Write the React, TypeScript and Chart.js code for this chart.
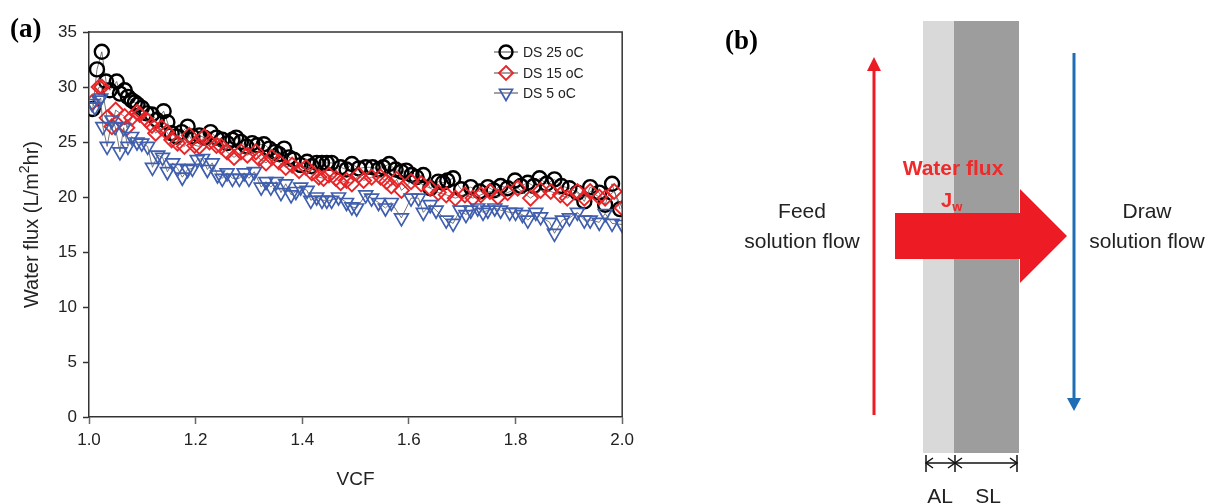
import React, { useEffect, useRef } from "react";
import { Chart, registerables } from "chart.js";

Chart.register(...registerables);

const FONT = "'Liberation Sans', Arial, sans-serif";
const SERIF = "'Liberation Serif', 'Times New Roman', serif";

// ---- Data (VCF vs water flux, L/m2hr) ----
const SERIES_LABELS = ["DS 25 oC", "DS 15 oC", "DS 5 oC"];

const VCF_25 = [1.007,1.015,1.024,1.032,1.039,1.052,1.058,1.067,1.073,1.080,1.086,1.091,1.099,1.108,1.118,1.127,1.140,1.147,1.155,1.164,1.174,1.185,1.194,1.207,1.216,1.228,1.239,1.250,1.259,1.269,1.276,1.285,1.295,1.306,1.315,1.328,1.338,1.349,1.356,1.366,1.375,1.384,1.397,1.409,1.418,1.427,1.437,1.446,1.455,1.472,1.483,1.493,1.506,1.519,1.532,1.543,1.552,1.563,1.575,1.586,1.595,1.605,1.614,1.627,1.640,1.655,1.664,1.672,1.683,1.698,1.716,1.733,1.748,1.759,1.772,1.785,1.799,1.810,1.823,1.834,1.845,1.858,1.873,1.886,1.901,1.916,1.929,1.940,1.957,1.968,1.981,1.996];
const FLUX_25 = [28.0,31.6,33.2,30.5,29.7,30.5,29.4,29.7,29.1,28.8,28.6,28.4,28.1,27.6,27.5,27.0,27.8,26.8,25.8,25.5,25.9,26.4,25.5,25.6,25.4,25.9,25.4,25.2,24.9,25.2,25.4,25.0,24.6,24.9,24.7,24.8,24.4,24.1,23.9,24.4,23.6,23.4,22.9,23.2,22.8,23.1,23.1,23.1,23.1,22.7,22.5,23.0,22.6,22.7,22.7,22.5,22.7,23.0,22.5,22.3,22.4,22.0,21.8,22.0,20.8,21.4,21.3,21.5,21.7,20.7,20.9,20.5,20.9,20.6,21.0,20.8,21.5,21.0,21.3,21.0,21.7,21.2,21.6,21.0,20.8,20.4,19.6,20.9,20.4,19.3,21.2,18.9];

const VCF_15 = [1.006,1.019,1.024,1.034,1.043,1.050,1.067,1.071,1.080,1.090,1.095,1.108,1.118,1.125,1.136,1.146,1.155,1.166,1.179,1.188,1.198,1.207,1.216,1.226,1.239,1.248,1.259,1.272,1.285,1.297,1.313,1.319,1.332,1.343,1.356,1.369,1.381,1.394,1.407,1.418,1.431,1.440,1.450,1.463,1.472,1.483,1.493,1.506,1.515,1.530,1.547,1.558,1.567,1.577,1.586,1.604,1.623,1.640,1.655,1.670,1.687,1.705,1.720,1.735,1.752,1.767,1.785,1.804,1.828,1.847,1.866,1.884,1.897,1.916,1.929,1.940,1.957,1.968,1.985,2.000];
const FLUX_15 = [28.6,30.0,30.0,27.2,26.4,27.9,27.3,26.3,27.2,27.7,27.5,27.0,26.5,25.8,26.3,25.9,25.2,24.9,24.6,25.6,24.7,24.6,25.5,25.0,24.7,24.6,24.1,23.6,24.1,23.8,24.1,23.5,23.1,23.6,23.2,22.7,22.9,22.4,22.7,22.2,21.8,21.7,22.0,21.7,21.3,21.5,21.2,22.0,21.5,21.8,21.8,21.4,21.0,21.6,20.6,21.4,21.2,20.8,20.4,20.2,19.9,20.2,19.9,20.2,20.5,20.0,20.4,20.8,19.9,20.6,20.5,20.2,19.9,20.5,19.9,20.5,20.0,19.9,20.5,19.0];

const VCF_5 = [1.006,1.011,1.019,1.022,1.026,1.034,1.043,1.049,1.058,1.065,1.073,1.080,1.090,1.099,1.110,1.119,1.129,1.138,1.147,1.157,1.166,1.175,1.185,1.194,1.203,1.213,1.222,1.231,1.241,1.250,1.259,1.269,1.282,1.291,1.300,1.310,1.323,1.332,1.341,1.351,1.360,1.369,1.379,1.388,1.397,1.409,1.416,1.427,1.437,1.446,1.455,1.468,1.483,1.493,1.502,1.519,1.530,1.543,1.556,1.567,1.586,1.604,1.618,1.627,1.640,1.651,1.670,1.683,1.696,1.707,1.716,1.729,1.739,1.748,1.761,1.772,1.789,1.800,1.813,1.823,1.838,1.847,1.864,1.873,1.888,1.901,1.916,1.929,1.940,1.957,1.968,1.981,2.000];
const FLUX_5 = [28.5,28.2,28.8,29.0,26.4,24.6,27.0,26.4,24.1,26.3,24.6,25.5,25.0,24.9,24.6,22.7,23.8,23.6,22.3,23.1,22.6,21.8,22.5,22.6,23.4,23.5,22.5,23.1,22.0,21.7,22.2,21.7,21.7,22.2,21.7,22.3,20.9,21.4,20.9,21.4,20.4,21.2,20.2,20.5,20.9,20.6,19.7,20.0,19.7,19.7,19.7,20.0,19.5,19.1,19.0,20.2,19.9,19.5,19.0,19.5,18.1,19.9,19.9,18.6,19.3,18.8,17.9,17.6,18.8,18.4,18.8,19.0,18.6,18.8,19.0,18.8,18.6,18.6,18.4,17.9,18.6,18.2,17.7,16.7,17.9,18.1,18.6,17.9,17.9,17.7,18.5,17.6,17.5];

const X_TICKS = [1.0, 1.2, 1.4, 1.6, 1.8, 2.0];
const Y_TICKS = [0, 5, 10, 15, 20, 25, 30, 35];

const COLORS = ["#000000", "#e8262a", "#3f5eae"];
const STYLES = ["circle", "rectRot", "triangle"];
const RADII = [7, 7.5, 8];
const BWIDTH = [2.4, 1.9, 1.7];
const ROT = [0, 0, 180];

const toPts = (xs: number[], ys: number[]) => xs.map((x, i) => ({ x, y: ys[i] }));

function drawMarker(ctx: CanvasRenderingContext2D, kind: string, x: number, y: number, r: number) {
  ctx.beginPath();
  if (kind === "circle") {
    ctx.arc(x, y, r, 0, Math.PI * 2);
  } else if (kind === "rectRot") {
    ctx.moveTo(x, y - r);
    ctx.lineTo(x + r, y);
    ctx.lineTo(x, y + r);
    ctx.lineTo(x - r, y);
    ctx.closePath();
  } else {
    const h = r * 0.866;
    ctx.moveTo(x - h, y - r / 2);
    ctx.lineTo(x + h, y - r / 2);
    ctx.lineTo(x, y + r);
    ctx.closePath();
  }
  ctx.stroke();
}

export default function App() {
  const ref = useRef<HTMLCanvasElement>(null);

  useEffect(() => {
    if (!ref.current) return;
    const framePlugin = {
      id: "frameAndLegend",
      afterDraw(chart: any) {
        const { ctx, chartArea } = chart;
        const { left, right, top, bottom } = chartArea;
        ctx.save();
        ctx.strokeStyle = "#333";
        ctx.lineWidth = 1.5;
        ctx.beginPath();
        ctx.moveTo(left, top);
        ctx.lineTo(right, top);
        ctx.lineTo(right, bottom);
        ctx.stroke();

        // panel label
        ctx.fillStyle = "#000";
        ctx.font = `bold 27px ${SERIF}`;
        ctx.textAlign = "left";
        ctx.textBaseline = "alphabetic";
        ctx.fillText("(a)", 10, 37);

        // y-axis title with superscript
        ctx.save();
        ctx.translate(32, (top + bottom) / 2);
        ctx.rotate(-Math.PI / 2);
        const main = `20px ${FONT}`;
        const sup = `14px ${FONT}`;
        const p1 = "Water flux (L/m";
        const p2 = "2";
        const p3 = "hr)";
        ctx.font = main;
        const w1 = ctx.measureText(p1).width;
        const w3 = ctx.measureText(p3).width;
        ctx.font = sup;
        const w2 = ctx.measureText(p2).width;
        const total = w1 + w2 + w3;
        let cx = -total / 2;
        ctx.fillStyle = "#222";
        ctx.textBaseline = "middle";
        ctx.font = main;
        ctx.fillText(p1, cx, 0);
        cx += w1;
        ctx.font = sup;
        ctx.fillText(p2, cx, -7);
        cx += w2;
        ctx.font = main;
        ctx.fillText(p3, cx, 0);
        ctx.restore();

        // legend
        const ys = [52, 73, 93];
        SERIES_LABELS.forEach((lab, i) => {
          const y = ys[i];
          ctx.strokeStyle = "#444";
          ctx.lineWidth = 1;
          ctx.beginPath();
          ctx.moveTo(494, y);
          ctx.lineTo(518, y);
          ctx.stroke();
          ctx.strokeStyle = COLORS[i];
          ctx.lineWidth = BWIDTH[i];
          drawMarker(ctx, STYLES[i], 506, y, RADII[i] - 0.5);
          ctx.fillStyle = "#222";
          ctx.font = `14px ${FONT}`;
          ctx.textBaseline = "middle";
          ctx.textAlign = "left";
          ctx.fillText(lab, 523, y + 1);
        });
        ctx.restore();
      },
    };

    const datasets = [
      { xs: VCF_25, ys: FLUX_25 },
      { xs: VCF_15, ys: FLUX_15 },
      { xs: VCF_5, ys: FLUX_5 },
    ].map((s, i) => ({
      label: SERIES_LABELS[i],
      data: toPts(s.xs, s.ys),
      showLine: true,
      borderColor: "#555",
      borderWidth: 0.8,
      pointStyle: STYLES[i] as any,
      pointRadius: RADII[i],
      pointRotation: ROT[i],
      pointBorderColor: COLORS[i],
      pointBackgroundColor: "rgba(0,0,0,0)",
      pointBorderWidth: BWIDTH[i],
      order: 3 - i,
    }));

    const chart = new Chart(ref.current, {
      type: "scatter",
      data: { datasets },
      options: {
        animation: false,
        responsive: false,
        devicePixelRatio: 1,
        layout: { padding: { top: 32, right: 15, left: 0, bottom: 0 } },
        plugins: { legend: { display: false }, tooltip: { enabled: false } },
        scales: {
          x: {
            type: "linear",
            min: 1,
            max: 2,
            afterFit(scale: any) { scale.height = 86; },
            afterBuildTicks(scale: any) { scale.ticks = X_TICKS.map((v) => ({ value: v })); },
            ticks: {
              callback: (v: any) => Number(v).toFixed(1),
              font: { family: FONT, size: 17 },
              color: "#222",
              padding: 6,
              maxRotation: 0,
            },
            grid: { drawOnChartArea: false, tickLength: 7, color: "#666", tickWidth: 1.5 },
            border: { color: "#333", width: 1.5 },
            title: {
              display: true,
              text: "VCF",
              font: { family: FONT, size: 19 },
              color: "#222",
              padding: { top: 0, bottom: 12 },
            },
          },
          y: {
            min: 0,
            max: 35,
            afterFit(scale: any) { scale.width = 89; },
            afterBuildTicks(scale: any) { scale.ticks = Y_TICKS.map((v) => ({ value: v })); },
            ticks: {
              font: { family: FONT, size: 17 },
              color: "#222",
              padding: 6,
            },
            grid: { drawOnChartArea: false, tickLength: 6, color: "#333", tickWidth: 1.5 },
            border: { color: "#333", width: 1.5 },
            title: { display: false },
          },
        },
      },
      plugins: [framePlugin],
    } as any);
    return () => chart.destroy();
  }, []);

  const red = "#ed1c24";
  const txt = { fontFamily: FONT, fontSize: 21, fill: "#222" } as const;

  return (
    <div style={{ position: "absolute", left: 0, top: 0, width: 1206, height: 503, background: "#fff", overflow: "hidden" }}>
      <canvas ref={ref} width={640} height={503} style={{ position: "absolute", left: 0, top: 0 }} />
      <svg width={1206} height={503} style={{ position: "absolute", left: 0, top: 0, pointerEvents: "none" }}>
        <text x={725} y={49} style={{ fontFamily: SERIF, fontWeight: "bold", fontSize: 27 }} fill="#000">(b)</text>
        <rect x={923} y={21} width={31} height={432} fill="#d9d9d9" />
        <rect x={954} y={21} width={65} height={432} fill="#9d9d9d" />
        {/* feed flow arrow */}
        <line x1={874} y1={415} x2={874} y2={68} stroke={red} strokeWidth={3} />
        <polygon points="874,57 867,71 881,71" fill={red} />
        {/* draw flow arrow */}
        <line x1={1074} y1={53} x2={1074} y2={400} stroke="#1f6db5" strokeWidth={3} />
        <polygon points="1067,398 1081,398 1074,411" fill="#1f6db5" />
        {/* water flux arrow */}
        <polygon points="895,213 1020,213 1020,189 1067,236 1020,283 1020,259 895,259" fill={red} />
        <text x={953} y={175} textAnchor="middle" style={{ fontFamily: FONT, fontWeight: "bold", fontSize: 21 }} fill="#ee2a2a">Water flux</text>
        <text x={941} y={207} style={{ fontFamily: FONT, fontWeight: "bold", fontSize: 20 }} fill="#ee2a2a">
          J<tspan dy={4} style={{ fontSize: 13 }}>w</tspan>
        </text>
        <text x={802} y={218} textAnchor="middle" style={txt}>Feed</text>
        <text x={802} y={248} textAnchor="middle" style={txt}>solution flow</text>
        <text x={1147} y={218} textAnchor="middle" style={txt}>Draw</text>
        <text x={1147} y={248} textAnchor="middle" style={txt}>solution flow</text>
        {/* dimension marks */}
        <g stroke="#111" strokeWidth={1.5} fill="none">
          <line x1={926} y1={455} x2={926} y2={472} />
          <line x1={955} y1={455} x2={955} y2={472} />
          <line x1={1017} y1={455} x2={1017} y2={472} />
          <line x1={926} y1={463} x2={1017} y2={463} />
          <polyline points="933,458 926,463 933,468" />
          <polyline points="948,458 955,463 948,468" />
          <polyline points="962,458 955,463 962,468" />
          <polyline points="1010,458 1017,463 1010,468" />
        </g>
        <text x={940} y={503} textAnchor="middle" style={txt}>AL</text>
        <text x={988} y={503} textAnchor="middle" style={txt}>SL</text>
      </svg>
    </div>
  );
}
